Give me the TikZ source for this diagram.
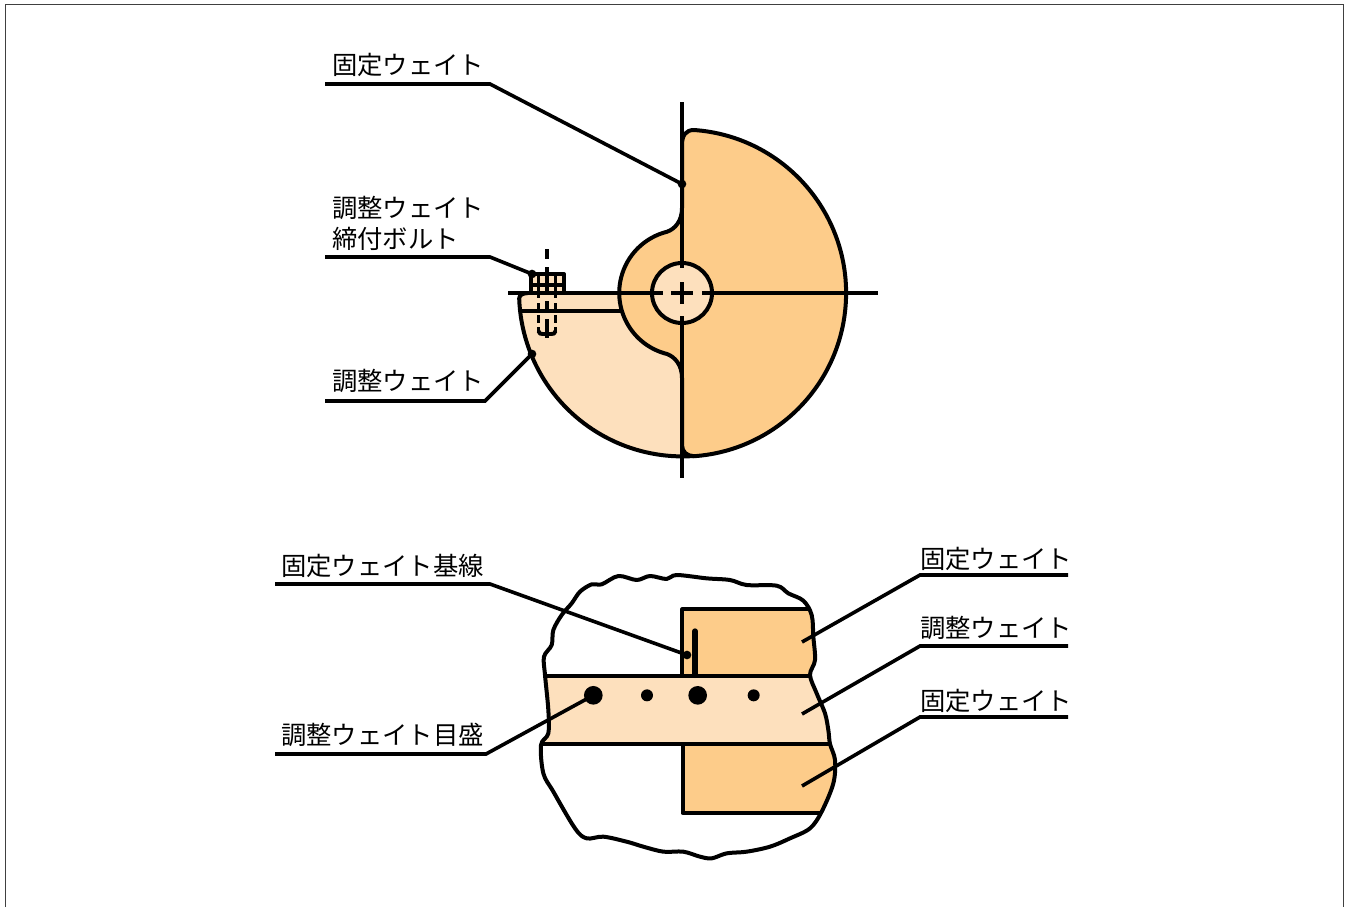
\documentclass[tikz,border=0pt]{standalone}
\usepackage{fontspec}
\setmainfont{Noto Sans CJK JP}
\definecolor{wdark}{HTML}{FDCC8A}
\definecolor{wlight}{HTML}{FDE0BD}
\tikzset{
  ln/.style={line width=3pt,line join=round},
  thin ln/.style={line width=2.9pt,line join=round},
  lab/.style={font=\fontsize{19pt}{23pt}\selectfont,anchor=west,inner sep=0pt,text=black},
  lead/.style={line width=2.7pt,line join=miter},
  pin/.style={circle,fill=black,inner sep=0pt,minimum size=6.5pt},
  anchorpt/.style={inner sep=0pt,minimum size=0pt}
}
\def\blobpts{(45,315)(42,260)(65,225)(70,180)(95,135)(125,100)(150,65)(185,43)(215,43)(265,18)(320,30)(360,18)(410,27)(440,15)(530,25)(600,30)(650,45)(740,47)(775,70)(820,92)(845,135)(850,200)(855,270)(840,315)(860,370)(885,430)(895,480)(900,522)(915,570)(910,640)(875,725)(840,775)(780,805)(720,830)(650,845)(590,850)(545,865)(510,860)(460,845)(400,845)(340,830)(290,815)(220,800)(170,805)(135,775)(70,665)(40,610)(33,525)(55,490)(55,420)}
\begin{document}
\begin{tikzpicture}[x=0.75pt,y=-0.75pt]
\useasboundingbox (0,0) rectangle (1351,907);
% frame
\draw[line width=0.9pt,black!75] (5.5,907) -- (5.5,4.5) -- (1343.5,4.5) -- (1343.5,907);
% upper figure: adjusting weight
\path[fill=wlight] (682,378) -- (682,445) .. controls (682,452) and (687,456) .. (694,456)
  arc[start angle=86,end angle=178,radius=163.5]
  .. controls (519,296) and (522,293) .. (528,293) -- (620,293) -- (618,293)
  arc[start angle=180,end angle=104,radius=63] .. controls (675,357) and (682,365) .. cycle;
\draw[ln] (694,456) arc[start angle=86,end angle=178,radius=163.5]
  .. controls (519,296) and (522,293) .. (528,293);
% fixed weight
\draw[ln,fill=wdark] (682,145) .. controls (682,135) and (686,130) .. (694,130)
  arc[start angle=-86,end angle=86,radius=163.5]
  .. controls (687,456) and (682,452) .. (682,445) -- (682,378)
  .. controls (682,365) and (675,357) .. (667,354)
  arc[start angle=104,end angle=256,radius=63]
  .. controls (675,229) and (682,221) .. (682,208) -- cycle;
% adjusting weight top edges
\draw[ln] (520,310.5) -- (622,310.5);
% bolt head
\draw[thin ln,fill=wlight] (531,293) -- (531,274) -- (564,274) -- (564,293);
\draw[thin ln] (531,285) -- (564,285);
% bolt hidden lines
\draw[thin ln] (538.5,276) -- (538.5,293) (555.5,276) -- (555.5,293);
\foreach \yy/\ye in {293/298,303/310,315/323,327/333}{
  \draw[thin ln] (538.5,\yy) -- (538.5,\ye) (555.5,\yy) -- (555.5,\ye);
}
\draw[thin ln] (538.5,331) .. controls (538.5,334) and (541,334) .. (543,334) -- (551,334) .. controls (553,334) and (555.5,334) .. (555.5,331);
\foreach \yy/\ye in {249/259,267/292,301/313,319/338}{
  \draw[thin ln] (547,\yy) -- (547,\ye);
}
% centre hole
\draw[ln,fill=wlight] (682,293) circle[radius=30];
% centre lines
\draw[ln] (682,102) -- (682,268) (682,282) -- (682,304) (682,316) -- (682,478);
\draw[ln] (508,293) -- (663,293) (671,293) -- (693,293) (702,293) -- (878,293);
% lower figure, clipped into the torn outline
\begin{scope}[shift={(530,570)},x=0.25pt,y=-0.25pt]
  \begin{scope}
    \clip plot[smooth cycle,tension=0.55] coordinates {\blobpts};
    \fill[wdark] (455,118) rectangle (1000,318);
    \fill[wdark] (458,522) rectangle (1000,728);
    \fill[wlight] (0,318) rectangle (1000,522);
    \draw[ln] (1000,118) -- (457,118) -- (457,318);
    \draw[ln] (0,318) -- (1000,318);
    \draw[ln] (0,523) -- (1000,523);
    \draw[ln] (458,523) -- (458,729) -- (1000,729);
  \end{scope}
  \draw[line width=3pt,line join=round] plot[smooth cycle,tension=0.55] coordinates {\blobpts};
  \draw[line width=4pt,line cap=round] (495,183) -- (495,316);
  \fill (351,376) circle[radius=18];
  \fill (503,376) circle[radius=28];
  \fill (671,376) circle[radius=18];
\end{scope}
% labels
\node[lab] (fix1) at (332,65) {固定ウェイト};
\node[lab] (bolt1) at (332,208) {調整ウェイト};
\node[lab] (bolt2) at (332,239) {締付ボルト};
\node[lab] (adj1) at (332,381) {調整ウェイト};
\node[lab] (base) at (281,566) {固定ウェイト基線};
\node[lab] (scale) at (281,735) {調整ウェイト目盛};
\node[lab] (fix2) at (920,559) {固定ウェイト};
\node[lab] (adj2) at (920,628) {調整ウェイト};
\node[lab] (fix3) at (920,701) {固定ウェイト};
% leader ends
\node[pin] (p1) at (682,184) {};
\node[pin] (p2) at (532,274) {};
\node[pin] (p3) at (532,354) {};
\node[pin] (p4) at (687,655) {};
\node[circle,fill=black,inner sep=0pt,minimum size=14pt] (p5) at (593.3,695.3) {};
\coordinate (p6) at (802,642);
\coordinate (p7) at (802,714);
\coordinate (p8) at (802,786);
% leaders
\coordinate (u1a) at (325,84);   \coordinate (u1b) at (490,84);
\coordinate (u2a) at (325,257);  \coordinate (u2b) at (490,257);
\coordinate (u3a) at (325,401);  \coordinate (u3b) at (485,401);
\coordinate (u4a) at (275,584);  \coordinate (u4b) at (490,584);
\coordinate (u5a) at (275,754);  \coordinate (u5b) at (486,754);
\coordinate (u6a) at (1068,575); \coordinate (u6b) at (920,575);
\coordinate (u7a) at (1068,646); \coordinate (u7b) at (920,646);
\coordinate (u8a) at (1068,717); \coordinate (u8b) at (920,717);
\draw[lead] (u1a) -- (u1b) -- (p1.center);
\draw[lead] (u2a) -- (u2b) -- (p2.center);
\draw[lead] (u3a) -- (u3b) -- (p3.center);
\draw[lead] (u4a) -- (u4b) -- (p4.center);
\draw[lead] (u5a) -- (u5b) -- (p5.center);
\draw[lead] (u6a) -- (u6b) -- (p6);
\draw[lead] (u7a) -- (u7b) -- (p7);
\draw[lead] (u8a) -- (u8b) -- (p8);
\end{tikzpicture}
\end{document}
